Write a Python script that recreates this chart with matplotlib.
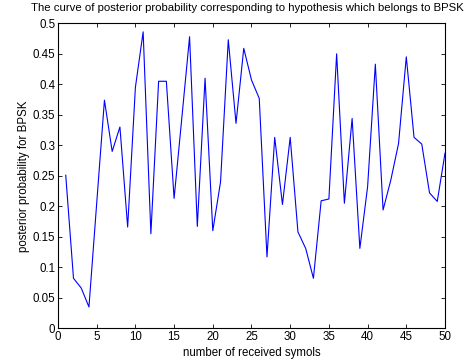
import matplotlib
matplotlib.use("Agg")
import matplotlib.pyplot as plt
import numpy as np

symbols = list(range(1, 51))
posterior = [0.251, 0.082, 0.066, 0.035, 0.205, 0.374, 0.290, 0.330, 0.166, 0.395,
             0.486, 0.155, 0.405, 0.405, 0.213, 0.345, 0.478, 0.167, 0.410, 0.160,
             0.240, 0.473, 0.336, 0.459, 0.407, 0.377, 0.117, 0.313, 0.203, 0.313,
             0.158, 0.131, 0.082, 0.209, 0.212, 0.450, 0.205, 0.344, 0.131, 0.232,
             0.433, 0.194, 0.243, 0.303, 0.445, 0.313, 0.302, 0.222, 0.208, 0.287]
x_ticks = list(range(0, 51, 5))
y_ticks = [0, 0.05, 0.1, 0.15, 0.2, 0.25, 0.3, 0.35, 0.4, 0.45, 0.5]
y_tick_labels = ["0", "0.05", "0.1", "0.15", "0.2", "0.25", "0.3", "0.35", "0.4", "0.45", "0.5"]

plt.rcParams['font.family'] = ['Liberation Sans', 'DejaVu Sans']
fig = plt.figure(figsize=(4.70, 3.62), dpi=100)
ax = fig.add_axes([0.1234, 0.0931, 0.8234, 0.8425])
ax.plot(symbols, posterior, color='#0000ff', linewidth=0.8)
ax.set_xlim(0, 50)
ax.set_ylim(0, 0.5)
ax.set_xticks(x_ticks)
ax.set_yticks(y_ticks)
ax.set_yticklabels(y_tick_labels)
ax.tick_params(direction='in', top=True, right=True, length=3, width=0.6, labelsize=8.3, pad=2)
for s in ax.spines.values():
    s.set_linewidth(0.8)
fig.text(0.527, 0.992, "The curve of posterior probability corresponding to hypothesis which belongs to BPSK",
         fontsize=8.2, ha='center', va='top')
ax.set_xlabel("number of received symols", fontsize=8.3, labelpad=2.5)
ax.set_ylabel("posterior probability for BPSK", fontsize=8.3, labelpad=2)
fig.savefig("out.png", dpi=100)
